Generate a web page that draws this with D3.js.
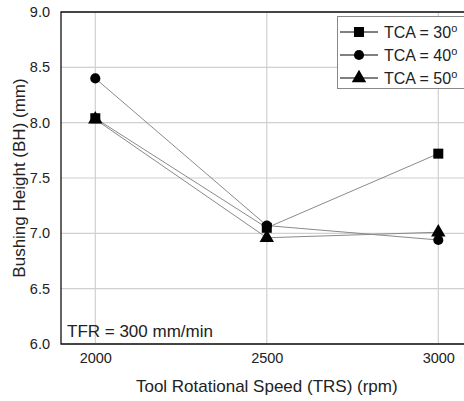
<!DOCTYPE html>
<html><head><meta charset="utf-8">
<script src="https://cdn.jsdelivr.net/npm/d3@7"></script>
<style>body{margin:0;background:#fff}svg{display:block}text{font-family:"Liberation Sans",Arial,sans-serif;fill:#222}</style>
</head><body>
<script>
const speeds = [2000, 2500, 3000];
const tca30 = [8.04, 7.05, 7.72];
const tca40 = [8.40, 7.07, 6.94];
const tca50 = [8.03, 6.96, 7.01];
const seriesNames = ["TCA = 30", "TCA = 40", "TCA = 50"];
const yTicks = [6.0, 6.5, 7.0, 7.5, 8.0, 8.5, 9.0];
const xTicks = [2000, 2500, 3000];

(function () {
const W = 464, H = 401;
const svg = d3.select("body").append("svg").attr("width", W).attr("height", H);
const left = 61, topY = 12, bottom = 344;
const x = d3.scaleLinear().domain([1900, 3100]).range([left, left + 1200 * 171.5 / 500]);
const y = d3.scaleLinear().domain([6, 9]).range([bottom, topY]);

// grid
svg.append("g").selectAll("line").data(yTicks).join("line")
  .attr("x1", left).attr("x2", x.range()[1]).attr("y1", d => y(d)).attr("y2", d => y(d))
  .attr("stroke", "#d0d0d0").attr("stroke-width", 1.2);
svg.append("g").selectAll("line").data(xTicks).join("line")
  .attr("y1", topY).attr("y2", bottom).attr("x1", d => x(d)).attr("x2", d => x(d))
  .attr("stroke", "#d0d0d0").attr("stroke-width", 1.2);

// frame
svg.append("path").attr("d", `M${x.range()[1]},${topY}H${left}V${bottom}H${x.range()[1]}`)
  .attr("fill", "none").attr("stroke", "#111").attr("stroke-width", 1.3);

// axes
const yAxis = d3.axisLeft(y).tickValues(yTicks).tickFormat(d3.format(".1f")).tickSize(0).tickPadding(11);
const ga = svg.append("g").attr("transform", `translate(${left},0)`).call(yAxis);
ga.select(".domain").remove();
ga.selectAll("text").attr("font-size", 14.5).attr("fill", "#222");
const xAxis = d3.axisBottom(x).tickValues(xTicks).tickFormat(d3.format("d")).tickSize(0).tickPadding(9);
const gx = svg.append("g").attr("transform", `translate(0,${bottom})`).call(xAxis);
gx.select(".domain").remove();
gx.selectAll("text").attr("font-size", 14.5).attr("fill", "#222");

svg.append("text").attr("x", x(2500)).attr("y", 392).attr("text-anchor", "middle")
  .attr("font-size", 17).text("Tool Rotational Speed (TRS) (rpm)");
svg.append("text").attr("transform", `translate(25,${(topY + bottom) / 2}) rotate(-90)`)
  .attr("text-anchor", "middle").attr("font-size", 17).text("Bushing Height (BH) (mm)");
svg.append("text").attr("x", 67).attr("y", 337).attr("font-size", 17).text("TFR = 300 mm/min");

const data = [tca30, tca40, tca50];
const symbols = [d3.symbolSquare, d3.symbolCircle, d3.symbolTriangle];
const sizes = [100, 80, 90];
const line = d3.line().x((d, i) => x(speeds[i])).y(d => y(d));
data.forEach((s, k) => {
  svg.append("path").attr("d", line(s)).attr("fill", "none").attr("stroke", "#8a8a8a").attr("stroke-width", 1);
});
data.forEach((s, k) => {
  svg.append("g").selectAll("path").data(s).join("path")
    .attr("transform", (d, i) => `translate(${x(speeds[i])},${y(d)})`)
    .attr("d", d3.symbol().type(symbols[k]).size(sizes[k])).attr("fill", "#000");
});

// legend
const lg = svg.append("g");
lg.append("rect").attr("x", 337.5).attr("y", 16.5).attr("width", 140).attr("height", 72)
  .attr("fill", "#fff").attr("stroke", "#888").attr("stroke-width", 1);
seriesNames.forEach((n, k) => {
  const yy = 32 + k * 23;
  lg.append("line").attr("x1", 340).attr("x2", 378).attr("y1", yy).attr("y2", yy).attr("stroke", "#000").attr("stroke-width", 1);
  lg.append("path").attr("transform", `translate(359,${yy})`).attr("d", d3.symbol().type(symbols[k]).size(sizes[k])).attr("fill", "#000");
  const t = lg.append("text").attr("x", 384).attr("y", yy + 6).attr("font-size", 16).text(n);
  t.append("tspan").attr("font-size", 11).attr("dy", -6).text("o");
});
})();
</script>
</body></html>
